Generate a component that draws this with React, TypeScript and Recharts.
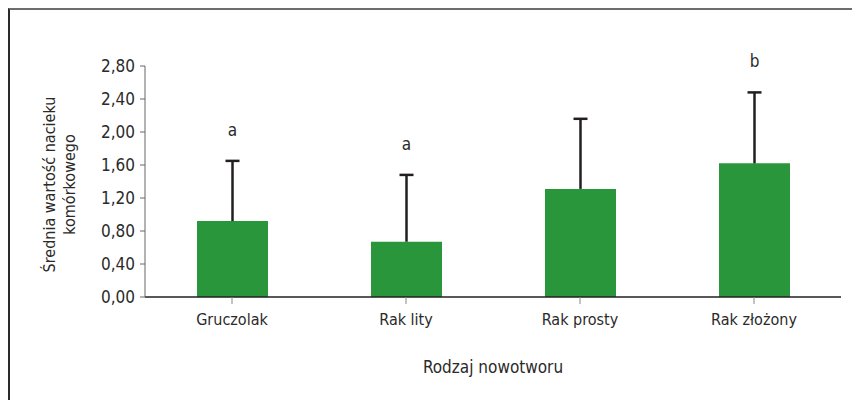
import { BarChart, Bar, XAxis, YAxis, LabelList, Label } from "recharts"

const categories = ["Gruczolak", "Rak lity", "Rak prosty", "Rak złożony"]
const means = [0.92, 0.67, 1.31, 1.62]
const sds = [0.73, 0.81, 0.85, 0.86]
const letters = ["a", "a", "", "b"]
const yTicks = [0, 0.4, 0.8, 1.2, 1.6, 2.0, 2.4, 2.8]

const data = categories.map((name, i) => ({
  name,
  mean: means[i],
  sd: sds[i],
  letter: letters[i],
}))

const FONT = "'Liberation Sans Narrow', 'DejaVu Sans Condensed', sans-serif"
const TEXT = "#2b2a29"

const ErrorShape = (props: any) => {
  const { x, y, width, height } = props
  const cx = x + width / 2
  return (
    <g>
      <line x1={cx} x2={cx} y1={y} y2={y + height} stroke="#231f20" strokeWidth={2.5} />
      <line x1={cx - 7} x2={cx + 7} y1={y} y2={y} stroke="#231f20" strokeWidth={2.5} />
    </g>
  )
}

const YTitle = (props: any) => {
  const { viewBox } = props
  const cx = 60
  const cy = viewBox.y + viewBox.height / 2 + 3
  return (
    <text
      transform={`rotate(-90, ${cx}, ${cy})`}
      x={cx}
      y={cy}
      textAnchor="middle"
      fill={TEXT}
      fontSize={16}
      fontFamily={FONT}
    >
      <tspan x={cx} dy={-5}>Średnia wartość nacieku</tspan>
      <tspan x={cx} dy={20}>komórkowego</tspan>
    </text>
  )
}

export default function App() {
  return (
    <div style={{ position: "absolute", left: 0, top: 0, width: 852, height: 400, background: "#fff" }}>
      <div
        style={{
          position: "absolute",
          left: 8,
          top: 8,
          width: 844,
          height: 392,
          borderTop: "2px solid #6d6d6d",
          borderLeft: "2px solid #2a2a2a",
          boxSizing: "border-box",
        }}
      />
      <div style={{ position: "absolute", left: 0, top: 0 }}>
        <BarChart
          width={852}
          height={400}
          data={data}
          margin={{ top: 66, right: 11, bottom: 13, left: 0 }}
        >
          <XAxis
            dataKey="name"
            axisLine={{ stroke: "#231f20", strokeWidth: 1.5 }}
            tickLine={{ stroke: "#888" }}
            tickSize={7}
            tickMargin={10}
            height={90}
            tick={{ fill: TEXT, fontSize: 16, fontFamily: FONT }}
          >
            <Label
              value="Rodzaj nowotworu"
              position="insideBottom"
              offset={14}
              fill={TEXT}
              fontSize={17}
              fontFamily={FONT}
            />
          </XAxis>
          <YAxis
            width={145}
            domain={[0, 2.8]}
            ticks={yTicks}
            interval={0}
            allowDecimals
            axisLine={{ stroke: "#666" }}
            tickLine={{ stroke: "#666" }}
            tickSize={5}
            tickMargin={5}
            tickFormatter={(v: number) => v.toFixed(2).replace(".", ",")}
            tick={{ fill: TEXT, fontSize: 17, fontFamily: FONT }}
          >
            <Label content={<YTitle />} />
          </YAxis>
          <Bar dataKey="mean" stackId="s" fill="#2a963c" barSize={71} isAnimationActive={false} />
          <Bar dataKey="sd" stackId="s" barSize={71} shape={<ErrorShape />} isAnimationActive={false}>
            <LabelList
              dataKey="letter"
              position="top"
              offset={25}
              fill={TEXT}
              fontSize={17}
              fontFamily={FONT}
            />
          </Bar>
        </BarChart>
      </div>
    </div>
  )
}
